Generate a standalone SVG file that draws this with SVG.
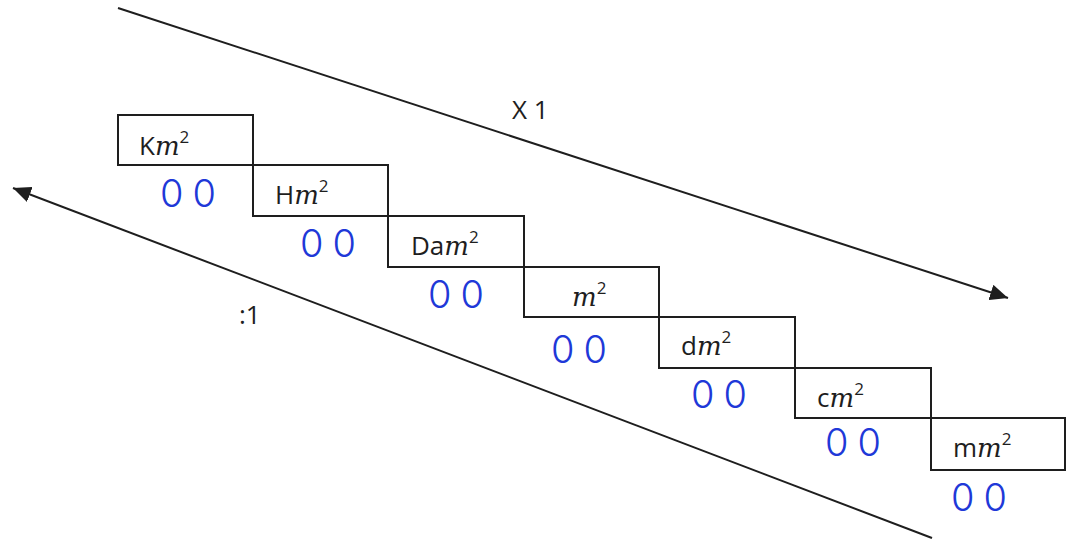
<svg xmlns="http://www.w3.org/2000/svg" width="1066" height="539" viewBox="0 0 1066 539">
  <style>
    .box { fill: none; stroke: #1e1e1e; stroke-width: 2; }
    .lbl { font-family: "Open Sans", "Liberation Sans", sans-serif; font-size: 26px; fill: #1e1e1e; }
    .mi { font-family: "DejaVu Serif", "Liberation Serif", serif; font-style: italic; font-size: 26px; }
    .sup { font-family: "Open Sans", "Liberation Sans", sans-serif; font-size: 17px; }
    .zeros { font-family: "Inter", "Noto Sans", sans-serif; font-weight: 300; font-size: 38px; fill: #2038d8; letter-spacing: 9px; }
    .conn { stroke: #1e1e1e; stroke-width: 2; fill: none; }
  </style>
  <defs>
    <marker id="head" markerUnits="userSpaceOnUse" markerWidth="20" markerHeight="16" refX="18" refY="8" orient="auto">
      <path d="M0,0 L18,8 L0,16 Z" fill="#1e1e1e"/>
    </marker>
  </defs>
  <rect width="1066" height="539" fill="#ffffff"/>

  <!-- conversion arrows -->
  <g id="connectors">
    <line class="conn" x1="118" y1="8" x2="1008" y2="298" marker-end="url(#head)"/>
    <line class="conn" x1="932" y1="538" x2="13" y2="188" marker-end="url(#head)"/>
  </g>
  <text class="lbl" x="512" y="119">X 1</text>
  <text class="lbl" x="239" y="324">:1</text>

  <!-- unit staircase -->
  <g id="km2">
    <rect class="box" x="118" y="115" width="135" height="50"/>
    <text class="lbl" x="139" y="155">K<tspan class="mi">m</tspan><tspan class="sup" dy="-12">2</tspan></text>
    <text class="zeros" x="160" y="207">00</text>
  </g>
  <g id="hm2">
    <rect class="box" x="253" y="165" width="135" height="51"/>
    <text class="lbl" x="275" y="204">H<tspan class="mi">m</tspan><tspan class="sup" dy="-12">2</tspan></text>
    <text class="zeros" x="300" y="257">00</text>
  </g>
  <g id="dam2">
    <rect class="box" x="388" y="216" width="136" height="51"/>
    <text class="lbl" x="411" y="255">Da<tspan class="mi">m</tspan><tspan class="sup" dy="-12">2</tspan></text>
    <text class="zeros" x="428" y="308">00</text>
  </g>
  <g id="m2">
    <rect class="box" x="524" y="267" width="135" height="50"/>
    <text class="lbl" x="572" y="306"><tspan class="mi">m</tspan><tspan class="sup" dy="-12">2</tspan></text>
    <text class="zeros" x="551" y="363">00</text>
  </g>
  <g id="dm2">
    <rect class="box" x="659" y="317" width="136" height="51"/>
    <text class="lbl" x="681" y="355">d<tspan class="mi">m</tspan><tspan class="sup" dy="-12">2</tspan></text>
    <text class="zeros" x="691" y="408">00</text>
  </g>
  <g id="cm2">
    <rect class="box" x="795" y="368" width="136" height="50"/>
    <text class="lbl" x="817" y="407">c<tspan class="mi">m</tspan><tspan class="sup" dy="-12">2</tspan></text>
    <text class="zeros" x="825" y="456">00</text>
  </g>
  <g id="mm2">
    <rect class="box" x="931" y="418" width="134" height="52"/>
    <text class="lbl" x="953" y="457">m<tspan class="mi">m</tspan><tspan class="sup" dy="-12">2</tspan></text>
    <text class="zeros" x="951" y="511">00</text>
  </g>
</svg>
